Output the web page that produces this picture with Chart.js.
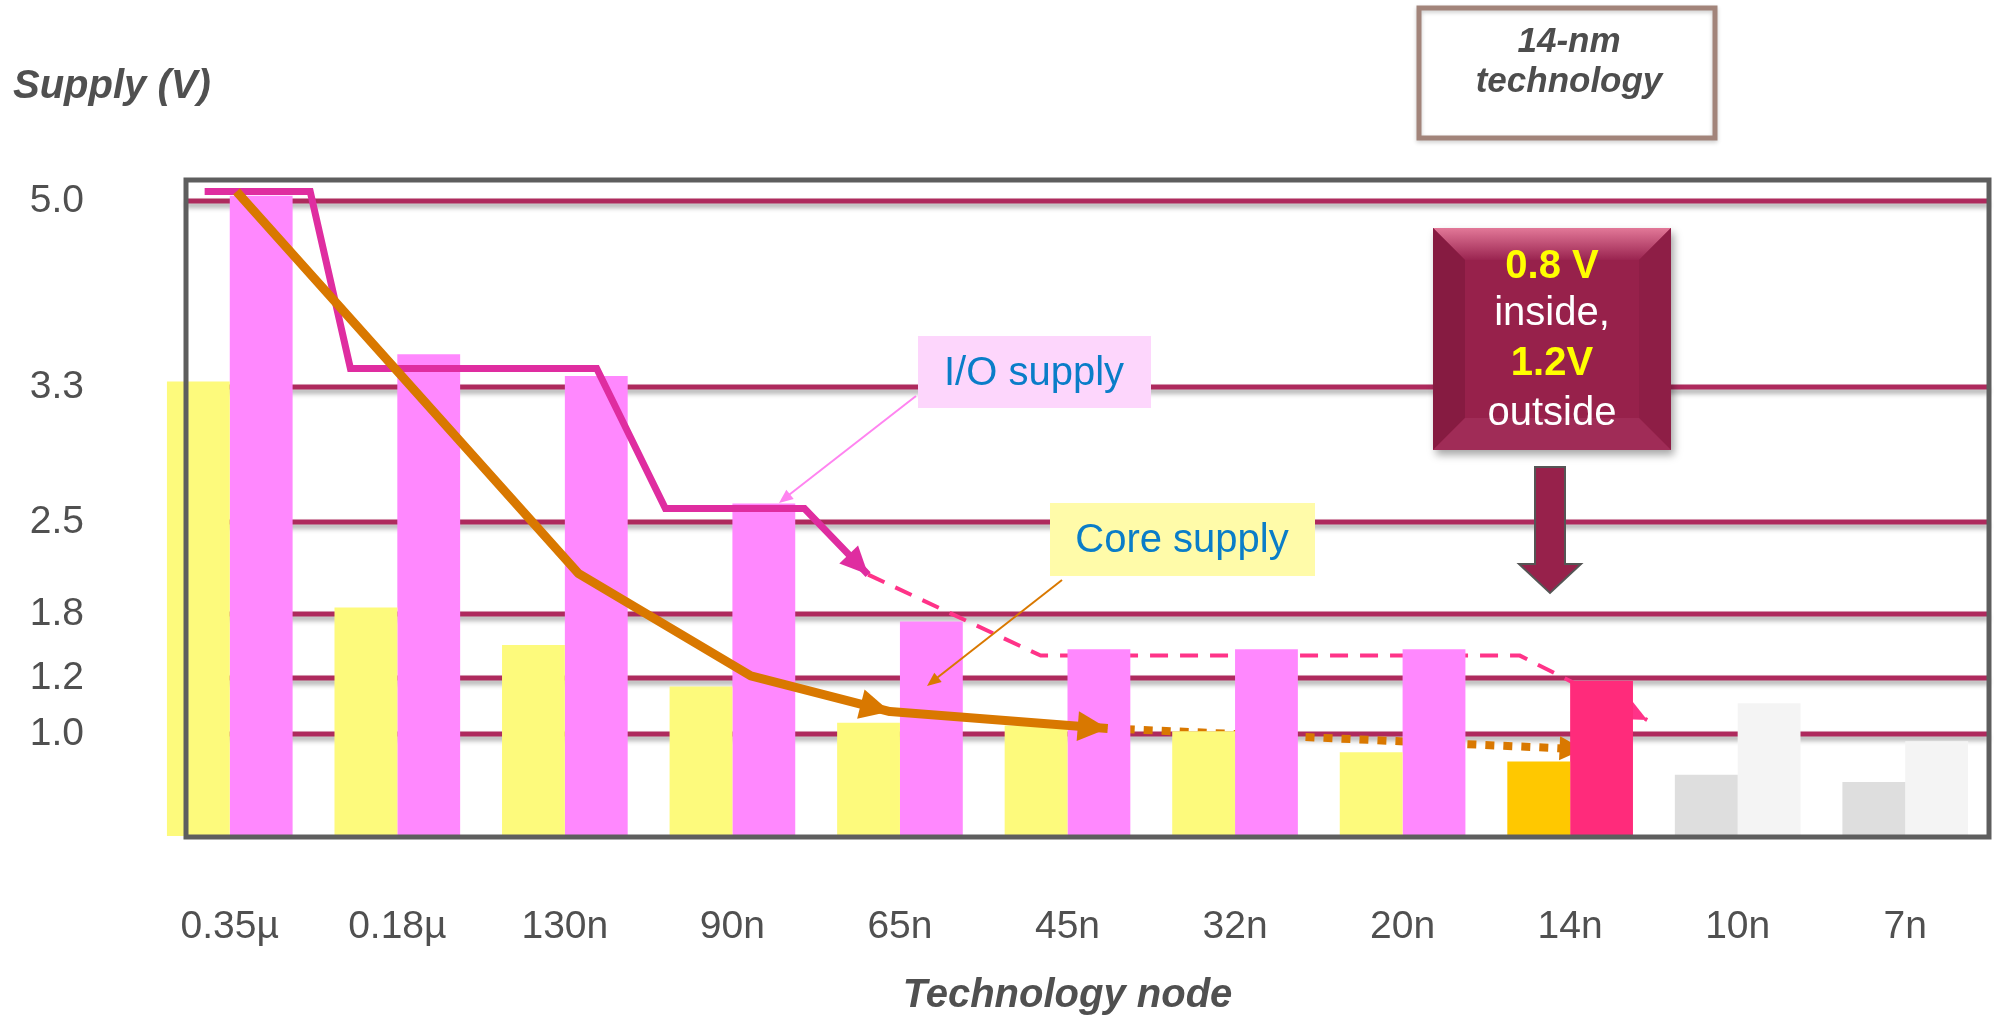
<!DOCTYPE html>
<html>
<head>
<meta charset="utf-8">
<title>Supply voltage by technology node</title>
<script src="https://cdn.jsdelivr.net/npm/chart.js@4.4.1/dist/chart.umd.min.js"></script>
<style>
  html, body { margin: 0; padding: 0; background: #fff; }
  #wrap { width: 2002px; height: 1020px; }
</style>
</head>
<body>
<div id="wrap"><canvas id="supplyChart" width="2002" height="1020"></canvas></div>
<script>
// values (volts)
var nodes = ['0.35µ', '0.18µ', '130n', '90n', '65n', '45n', '32n', '20n', '14n', '10n', '7n'];
var coreSupply = [3.35, 1.85, 1.51, 1.17, 1.04, 1.03, 1.01, 0.82, 0.73, 0.60, 0.53];
var ioSupply = [5.05, 3.60, 3.40, 2.61, 1.73, 1.47, 1.47, 1.47, 1.19, 1.11, 0.93];
var supplyTicks = [5.0, 3.3, 2.5, 1.8, 1.2, 1.0];

// trend arrows: x in node steps (0 = 0.35µ), y in volts
var ioTrendX = [-0.15, 0.48, 0.72, 2.19, 2.60, 3.43, 3.81, 4.84, 7.70, 8.46];
var ioTrendV = [5.09, 5.09, 3.47, 3.47, 2.58, 2.58, 2.10, 1.41, 1.41, 1.05];
var coreTrendX = [0.04, 2.08, 3.11, 3.94, 5.24, 8.08];
var coreTrendV = [5.09, 2.11, 1.22, 1.08, 1.02, 0.85];

var FONT = "'Liberation Sans', Arial, sans-serif";

// the slide's voltage axis is not linear: each labelled level sits at its own height
var AXIS_BREAKS = [[0, 0], [1.0, 102], [1.2, 158], [1.8, 222], [2.5, 314], [3.3, 449], [5.0, 635], [5.2, 656]];

function voltToLevel(v) {
  var b = AXIS_BREAKS;
  if (v <= b[0][0]) return b[0][1];
  for (var i = 1; i < b.length; i++) {
    if (v <= b[i][0]) {
      var t = (v - b[i - 1][0]) / (b[i][0] - b[i - 1][0]);
      return b[i - 1][1] + t * (b[i][1] - b[i - 1][1]);
    }
  }
  var n = b.length - 1;
  return b[n][1] + (v - b[n][0]) * (b[n][1] - b[n - 1][1]) / (b[n][0] - b[n - 1][0]);
}

function levelToVolt(p) {
  var b = AXIS_BREAKS;
  if (p <= b[0][1]) return b[0][0];
  for (var i = 1; i < b.length; i++) {
    if (p <= b[i][1]) {
      var t = (p - b[i - 1][1]) / (b[i][1] - b[i - 1][1]);
      return b[i - 1][0] + t * (b[i][0] - b[i - 1][0]);
    }
  }
  var n = b.length - 1;
  return b[n][0] + (p - b[n][1]) * (b[n][0] - b[n - 1][0]) / (b[n][1] - b[n - 1][1]);
}

class SupplyScale extends Chart.LinearScale {
  static id = 'supply';
  buildTicks() {
    return supplyTicks.map(function (v) { return { value: v }; });
  }
  getPixelForValue(value) {
    return this.getPixelForDecimal(voltToLevel(value) / voltToLevel(this.max));
  }
  getValueForPixel(pixel) {
    return levelToVolt(this.getDecimalForPixel(pixel) * voltToLevel(this.max));
  }
}
Chart.register(SupplyScale);

function points(xs, vs, from, to) {
  var out = [];
  for (var k = from; k < to; k++) out.push({ x: xs[k], y: vs[k] });
  return out;
}

function perNode(values) {
  return values.map(function (v, i) { return { x: i, y: v }; });
}

function barColor(node, normal, n14, future) {
  if (node === '14n') return n14;
  if (node === '10n' || node === '7n') return future;
  return normal;
}

function arrowHead(ctx, from, tip, len, half, color) {
  var ang = Math.atan2(tip.y - from.y, tip.x - from.x);
  ctx.save();
  ctx.translate(tip.x, tip.y);
  ctx.rotate(ang);
  ctx.beginPath();
  ctx.moveTo(0, 0);
  ctx.lineTo(-len, -half);
  ctx.lineTo(-len, half);
  ctx.closePath();
  ctx.fillStyle = color;
  ctx.fill();
  ctx.restore();
}

function label(ctx, str, x, y, font, color) {
  ctx.save();
  ctx.font = font;
  ctx.fillStyle = color;
  ctx.textAlign = 'center';
  ctx.textBaseline = 'middle';
  ctx.fillText(str, x, y);
  ctx.restore();
}

function bevelBox(ctx, x, y, w, h) {
  var b = 32;
  ctx.save();
  ctx.shadowColor = 'rgba(0,0,0,0.35)';
  ctx.shadowBlur = 8;
  ctx.shadowOffsetX = 3;
  ctx.shadowOffsetY = 5;
  ctx.fillStyle = '#97214B';
  ctx.fillRect(x, y, w, h);
  ctx.restore();

  ctx.save();
  var g = ctx.createLinearGradient(0, y, 0, y + b);
  g.addColorStop(0, '#E27898');
  g.addColorStop(1, '#9A2450');
  ctx.fillStyle = g;
  ctx.beginPath();
  ctx.moveTo(x, y); ctx.lineTo(x + w, y); ctx.lineTo(x + w - b, y + b); ctx.lineTo(x + b, y + b);
  ctx.closePath(); ctx.fill();
  ctx.fillStyle = '#861B41';
  ctx.beginPath();
  ctx.moveTo(x, y); ctx.lineTo(x + b, y + b); ctx.lineTo(x + b, y + h - b); ctx.lineTo(x, y + h);
  ctx.closePath(); ctx.fill();
  ctx.fillStyle = '#8E1E46';
  ctx.beginPath();
  ctx.moveTo(x + w, y); ctx.lineTo(x + w - b, y + b); ctx.lineTo(x + w - b, y + h - b); ctx.lineTo(x + w, y + h);
  ctx.closePath(); ctx.fill();
  ctx.fillStyle = '#A02C57';
  ctx.beginPath();
  ctx.moveTo(x, y + h); ctx.lineTo(x + b, y + h - b); ctx.lineTo(x + w - b, y + h - b); ctx.lineTo(x + w, y + h);
  ctx.closePath(); ctx.fill();
  ctx.fillStyle = '#97214B';
  ctx.fillRect(x + b, y + b, w - 2 * b, h - 2 * b);
  ctx.restore();
}

var FRAME_INSET = 40;

var slideDecor = {
  id: 'slideDecor',
  beforeDatasetsDraw: function (chart) {
    var ctx = chart.ctx, a = chart.chartArea, y = chart.scales.y;
    ctx.save();
    ctx.strokeStyle = '#AE2A5D';
    ctx.lineWidth = 5;
    ctx.shadowColor = 'rgba(0,0,0,0.35)';
    ctx.shadowBlur = 5;
    ctx.shadowOffsetY = 4;
    y.ticks.forEach(function (t) {
      var py = y.getPixelForValue(t.value);
      ctx.beginPath();
      ctx.moveTo(a.left + FRAME_INSET, py);
      ctx.lineTo(a.right, py);
      ctx.stroke();
    });
    ctx.restore();
  },
  afterDatasetDraw: function (chart, args) {
    var ds = chart.data.datasets[args.index];
    if (!ds.arrowAt) return;
    var pts = args.meta.data;
    ds.arrowAt.forEach(function (k) {
      arrowHead(chart.ctx, pts[k - 1], pts[k], ds.arrowLen, ds.arrowHalf, ds.arrowColor);
    });
  },
  afterDatasetsDraw: function (chart) {
    var ctx = chart.ctx, a = chart.chartArea;
    ctx.save();
    ctx.strokeStyle = '#5E5E5E';
    ctx.lineWidth = 5;
    ctx.strokeRect(a.left + FRAME_INSET, a.top, a.right - a.left - FRAME_INSET, a.bottom - a.top + 1);
    ctx.restore();
  },
  afterDraw: function (chart) {
    var ctx = chart.ctx;

    // 14-nm callout
    ctx.save();
    ctx.strokeStyle = '#A2847A';
    ctx.lineWidth = 5;
    ctx.shadowColor = 'rgba(0,0,0,0.2)';
    ctx.shadowBlur = 4;
    ctx.shadowOffsetY = 2;
    ctx.strokeRect(1419, 8, 296, 130);
    ctx.restore();
    label(ctx, '14-nm', 1569, 42, 'italic bold 35px ' + FONT, '#4D4D4D');
    label(ctx, 'technology', 1569, 82, 'italic bold 35px ' + FONT, '#4D4D4D');

    // 14n supply box and arrow
    bevelBox(ctx, 1433, 228, 238, 222);
    label(ctx, '0.8 V', 1552, 267, 'bold 40px ' + FONT, '#FFFF00');
    label(ctx, 'inside,', 1552, 314, '40px ' + FONT, '#FFFFFF');
    label(ctx, '1.2V', 1552, 364, 'bold 40px ' + FONT, '#FFFF00');
    label(ctx, 'outside', 1552, 414, '40px ' + FONT, '#FFFFFF');

    ctx.save();
    ctx.fillStyle = '#97214B';
    ctx.strokeStyle = '#555555';
    ctx.lineWidth = 2;
    ctx.beginPath();
    ctx.moveTo(1535, 467); ctx.lineTo(1565, 467); ctx.lineTo(1565, 564); ctx.lineTo(1581, 564);
    ctx.lineTo(1550, 593); ctx.lineTo(1519, 564); ctx.lineTo(1535, 564);
    ctx.closePath(); ctx.fill(); ctx.stroke();
    ctx.restore();

    // series callouts
    ctx.save();
    ctx.fillStyle = '#FDD6FC';
    ctx.fillRect(918, 336, 233, 72);
    ctx.fillStyle = '#FFFBA9';
    ctx.fillRect(1050, 503, 265, 73);
    ctx.lineWidth = 2;
    ctx.strokeStyle = '#FF84F0';
    ctx.beginPath(); ctx.moveTo(916, 396); ctx.lineTo(785, 498); ctx.stroke();
    ctx.strokeStyle = '#D97800';
    ctx.beginPath(); ctx.moveTo(1062, 580); ctx.lineTo(933, 681); ctx.stroke();
    ctx.restore();
    arrowHead(ctx, { x: 916, y: 396 }, { x: 779, y: 503 }, 14, 6, '#FF84F0');
    arrowHead(ctx, { x: 1062, y: 580 }, { x: 927, y: 686 }, 14, 6, '#D97800');
    label(ctx, 'I/O supply', 1034, 374, '40px ' + FONT, '#0A7DC8');
    label(ctx, 'Core supply', 1182, 541, '40px ' + FONT, '#0A7DC8');
  }
};

new Chart(document.getElementById('supplyChart'), {
  type: 'bar',
  data: {
    datasets: [
      {
        label: 'Core supply',
        data: perNode(coreSupply),
        order: 2,
        backgroundColor: nodes.map(function (n) { return barColor(n, '#FDFA7C', '#FFC800', '#DEDEDE'); }),
        borderWidth: 0
      },
      {
        label: 'I/O supply',
        data: perNode(ioSupply),
        order: 2,
        backgroundColor: nodes.map(function (n) { return barColor(n, '#FF88FE', '#FF2B7B', '#F4F4F4'); }),
        borderWidth: 0
      },
      {
        type: 'line',
        label: 'Core trend',
        data: points(coreTrendX, coreTrendV, 0, 5),
        order: 0,
        borderColor: '#D97800', borderWidth: 9, pointRadius: 0, tension: 0, fill: false,
        borderJoinStyle: 'round',
        arrowAt: [3, 4], arrowLen: 30, arrowHalf: 15, arrowColor: '#D97800'
      },
      {
        type: 'line',
        label: 'I/O trend',
        data: points(ioTrendX, ioTrendV, 0, 7),
        order: 1,
        borderColor: '#DF2DA0', borderWidth: 7, pointRadius: 0, tension: 0, fill: false,
        arrowAt: [6], arrowLen: 28, arrowHalf: 13, arrowColor: '#DF2DA0'
      },
      {
        type: 'line',
        label: 'Core trend (projected)',
        data: points(coreTrendX, coreTrendV, 4, coreTrendX.length),
        order: 3,
        borderColor: '#D97800', borderWidth: 8, borderDash: [9, 9], pointRadius: 0, tension: 0, fill: false,
        arrowAt: [1], arrowLen: 24, arrowHalf: 12, arrowColor: '#D97800'
      },
      {
        type: 'line',
        label: 'I/O trend (projected)',
        data: points(ioTrendX, ioTrendV, 6, ioTrendX.length),
        order: 3,
        borderColor: '#FF3388', borderWidth: 4, borderDash: [18, 12], pointRadius: 0, tension: 0, fill: false,
        arrowAt: [3], arrowLen: 24, arrowHalf: 11, arrowColor: '#FF3388'
      }
    ]
  },
  options: {
    responsive: false,
    animation: false,
    layout: { padding: { left: 13, right: 13, top: 0, bottom: 0 } },
    datasets: { bar: { categoryPercentage: 0.75, barPercentage: 1.0 } },
    plugins: {
      legend: { display: false },
      tooltip: { enabled: false },
      title: {
        display: true,
        text: 'Supply (V)',
        align: 'start',
        color: '#505050',
        font: { family: FONT, size: 40, weight: 'bold', style: 'italic', lineHeight: 1.2 },
        padding: { top: 63, bottom: 69 }
      }
    },
    scales: {
      x: {
        type: 'linear',
        min: -0.5,
        max: nodes.length - 0.5,
        offset: false,
        grid: { display: false },
        border: { display: false },
        afterBuildTicks: function (s) {
          s.ticks = nodes.map(function (n, i) { return { value: i }; });
        },
        ticks: {
          color: '#505050',
          font: { family: FONT, size: 39 },
          padding: 60,
          maxRotation: 0,
          autoSkip: false,
          callback: function (v) { return nodes[v]; }
        },
        title: {
          display: true,
          text: 'Technology node',
          color: '#505050',
          font: { family: FONT, size: 40, weight: 'bold', style: 'italic', lineHeight: 1.2 },
          padding: { top: 0, bottom: 0 }
        },
        afterFit: function (s) { s.height = 184; }
      },
      y: {
        type: 'supply',
        min: 0,
        max: 5.2,
        grid: { display: false },
        border: { display: false },
        ticks: {
          color: '#505050',
          font: { family: FONT, size: 39 },
          padding: 54,
          callback: function (v) { return Number(v).toFixed(1); }
        },
        afterFit: function (s) { s.width = 133; }
      }
    }
  },
  plugins: [slideDecor]
});
</script>
</body>
</html>
